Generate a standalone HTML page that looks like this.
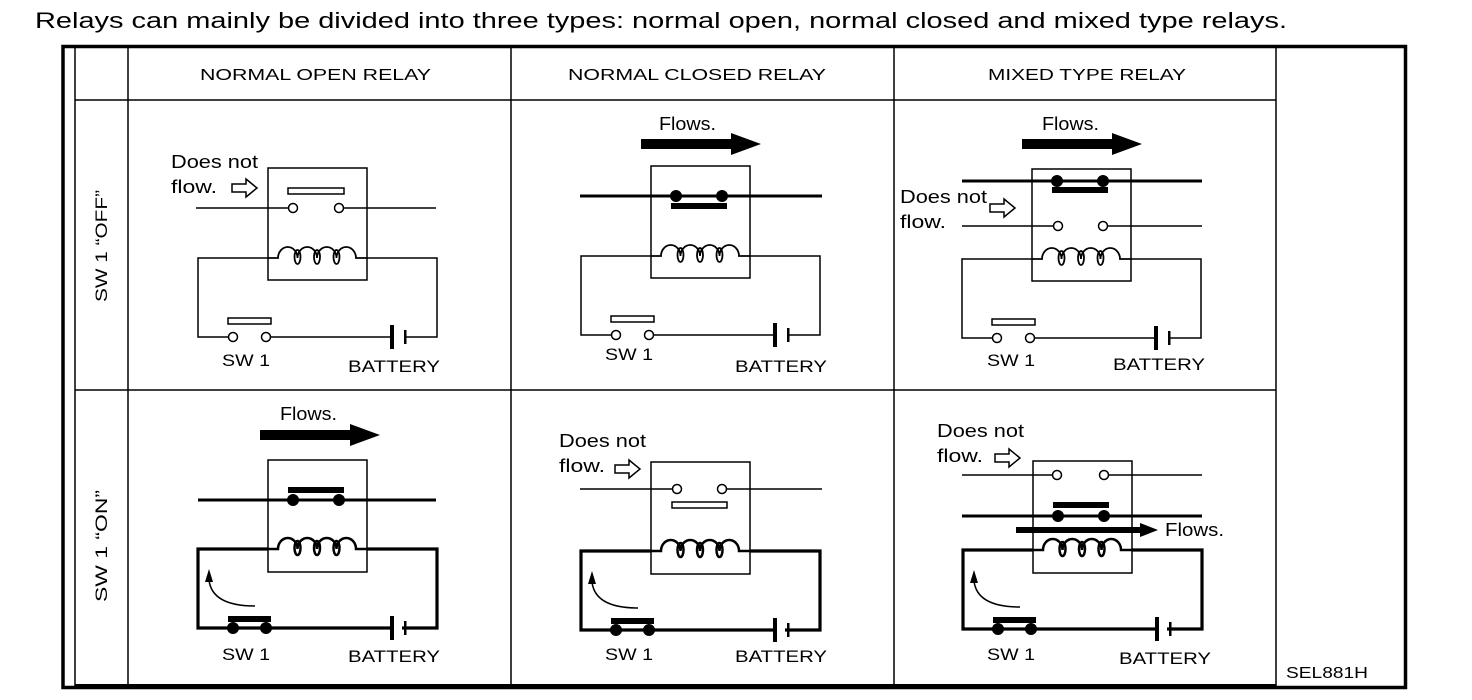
<!DOCTYPE html>
<html><head><meta charset="utf-8"><style>
html,body{margin:0;padding:0;background:#fff;}
svg{display:block;}
text{font-family:"Liberation Sans",sans-serif;fill:#000;}
</style></head><body>
<svg width="1472" height="700" viewBox="0 0 1472 700" xmlns="http://www.w3.org/2000/svg">
<defs>
<g id="coil" fill="none" stroke="#000">
<path d="M0,0 H10 a9.75,11 0 0 1 19.5,0 a9.75,11 0 0 1 19.5,0 a9.75,11 0 0 1 19.5,0 a9.75,11 0 0 1 19.5,0 H99"/>
<ellipse cx="29.5" cy="-1" rx="3" ry="7"/><ellipse cx="49" cy="-1" rx="3" ry="7"/><ellipse cx="68.5" cy="-1" rx="3" ry="7"/>
</g>
<polygon id="hollow" points="0,-4 14,-4 14,-9 25,0 14,9 14,4 0,4" fill="#fff" stroke="#000" stroke-width="1.5"/>
<polygon id="solid" points="0,-5 90,-5 90,-11 120,0 90,11 90,5 0,5" fill="#000"/>
<!-- OFF circuit (origin: NO column) -->
<g id="offc" fill="none" stroke="#000" stroke-width="1.5">
<rect x="268" y="168" width="99" height="112"/>
<use href="#coil" x="268" y="258" stroke-width="1.8"/>
<path d="M268,258 H198 V337 H228.5 M270.5,337 H391 M405,337 H437 V258 H367"/>
<circle cx="233" cy="337" r="4.5" fill="#fff"/><circle cx="266" cy="337" r="4.5" fill="#fff"/>
<rect x="228" y="318" width="43" height="6" fill="#fff"/>
<rect x="390" y="325" width="4" height="24" fill="#000" stroke="none"/>
<rect x="404" y="330" width="2.5" height="14" fill="#000" stroke="none"/>
</g>
<g id="onc" fill="none" stroke="#000">
<rect x="268" y="460" width="99" height="112" stroke-width="1.5"/>
<use href="#coil" x="268" y="549" stroke-width="2.5"/>
<path d="M268,549 H198 V628 H437 V549 H367" stroke-width="3.2"/>
<circle cx="233" cy="628" r="5.5" fill="#000"/><circle cx="266" cy="628" r="5.5" fill="#000"/>
<rect x="228" y="616" width="43" height="6" fill="#000" stroke="none"/>
<rect x="390" y="616" width="12" height="24" fill="#fff" stroke="none"/>
<rect x="390" y="616" width="4" height="24" fill="#000" stroke="none"/>
<rect x="404" y="621" width="2.5" height="14" fill="#000" stroke="none"/>
<path d="M255,606 Q212,606 209,580" stroke-width="1.5"/>
<polygon points="209,569 205,582 213,582" fill="#000" stroke="none"/>
</g>
</defs>

<text x="35" y="28" font-size="22" textLength="1252" lengthAdjust="spacingAndGlyphs">Relays can mainly be divided into three types: normal open, normal closed and mixed type relays.</text>

<!-- frame -->
<g fill="none" stroke="#000">
<rect x="63" y="46.5" width="1342.5" height="641" stroke-width="3.5"/>
<line x1="75" y1="47" x2="75" y2="686" stroke-width="1.5"/>
<line x1="128" y1="47" x2="128" y2="686" stroke-width="1.5"/>
<line x1="511" y1="47" x2="511" y2="686" stroke-width="1.5"/>
<line x1="894" y1="47" x2="894" y2="686" stroke-width="1.5"/>
<line x1="1276" y1="47" x2="1276" y2="686" stroke-width="1.5"/>
<line x1="75" y1="100" x2="1276" y2="100" stroke-width="1.5"/>
<line x1="75" y1="390" x2="1276" y2="390" stroke-width="1.5"/>
<line x1="75" y1="685" x2="1276" y2="685" stroke-width="2"/>
</g>

<text x="200" y="80" font-size="16" textLength="231" lengthAdjust="spacingAndGlyphs">NORMAL OPEN RELAY</text>
<text x="568" y="80" font-size="16" textLength="258" lengthAdjust="spacingAndGlyphs">NORMAL CLOSED RELAY</text>
<text x="988" y="80" font-size="16" textLength="198" lengthAdjust="spacingAndGlyphs">MIXED TYPE RELAY</text>

<text transform="translate(107,302) rotate(-90)" font-size="17" textLength="112" lengthAdjust="spacingAndGlyphs">SW 1 “OFF”</text>
<text transform="translate(107,602) rotate(-90)" font-size="17" textLength="112" lengthAdjust="spacingAndGlyphs">SW 1 “ON”</text>

<!-- NO OFF -->
<use href="#offc"/>
<g fill="none" stroke="#000" stroke-width="1.5">
<rect x="288" y="188" width="56" height="6" fill="#fff"/>
<path d="M196,208 H288.5 M343.5,208 H436"/>
<circle cx="293" cy="208" r="4.5" fill="#fff"/><circle cx="339" cy="208" r="4.5" fill="#fff"/>
</g>
<use href="#hollow" x="232" y="188"/>
<text x="171" y="168" font-size="18" textLength="87" lengthAdjust="spacingAndGlyphs">Does not</text>
<text x="171" y="193" font-size="18" textLength="46" lengthAdjust="spacingAndGlyphs">flow.</text>
<text x="222" y="366" font-size="17" textLength="48" lengthAdjust="spacingAndGlyphs">SW 1</text>
<text x="348" y="372" font-size="17" textLength="92" lengthAdjust="spacingAndGlyphs">BATTERY</text>

<!-- NO ON -->
<use href="#onc"/>
<g fill="none" stroke="#000">
<path d="M198,500 H436" stroke-width="3"/>
<rect x="288" y="487" width="56" height="6" fill="#000" stroke="none"/>
<circle cx="293" cy="500" r="5.5" fill="#000"/><circle cx="339" cy="500" r="5.5" fill="#000"/>
</g>
<use href="#solid" x="260" y="435"/>
<text x="280" y="420" font-size="18" textLength="57" lengthAdjust="spacingAndGlyphs">Flows.</text>
<text x="222" y="660" font-size="17" textLength="48" lengthAdjust="spacingAndGlyphs">SW 1</text>
<text x="348" y="662" font-size="17" textLength="92" lengthAdjust="spacingAndGlyphs">BATTERY</text>

<!-- NC OFF -->
<use href="#offc" x="383" y="-2"/>
<g fill="none" stroke="#000">
<path d="M580,196 H822" stroke-width="3"/>
<rect x="671" y="203" width="56" height="6" fill="#000" stroke="none"/>
<circle cx="676" cy="196" r="5.5" fill="#000"/><circle cx="722" cy="196" r="5.5" fill="#000"/>
</g>
<use href="#solid" x="641" y="144"/>
<text x="659" y="130" font-size="18" textLength="57" lengthAdjust="spacingAndGlyphs">Flows.</text>
<text x="605" y="360" font-size="17" textLength="48" lengthAdjust="spacingAndGlyphs">SW 1</text>
<text x="735" y="372" font-size="17" textLength="92" lengthAdjust="spacingAndGlyphs">BATTERY</text>

<!-- NC ON -->
<use href="#onc" x="383" y="2"/>
<g fill="none" stroke="#000" stroke-width="1.5">
<path d="M580,489 H672.5 M726.5,489 H822"/>
<circle cx="677" cy="489" r="4.5" fill="#fff"/><circle cx="722" cy="489" r="4.5" fill="#fff"/>
<rect x="672" y="502" width="55" height="6" fill="#fff"/>
</g>
<use href="#hollow" x="615" y="469"/>
<text x="559" y="447" font-size="18" textLength="87" lengthAdjust="spacingAndGlyphs">Does not</text>
<text x="559" y="472" font-size="18" textLength="46" lengthAdjust="spacingAndGlyphs">flow.</text>
<text x="605" y="660" font-size="17" textLength="48" lengthAdjust="spacingAndGlyphs">SW 1</text>
<text x="735" y="662" font-size="17" textLength="92" lengthAdjust="spacingAndGlyphs">BATTERY</text>

<!-- MIXED OFF -->
<use href="#offc" x="764" y="1"/>
<g fill="none" stroke="#000">
<path d="M962,181 H1202" stroke-width="3"/>
<rect x="1052" y="187" width="56" height="6" fill="#000" stroke="none"/>
<circle cx="1057" cy="181" r="5.5" fill="#000"/><circle cx="1103" cy="181" r="5.5" fill="#000"/>
<path d="M962,226 H1053.5 M1107.5,226 H1202" stroke-width="1.5"/>
<circle cx="1058" cy="226" r="4.5" fill="#fff" stroke-width="1.5"/><circle cx="1103" cy="226" r="4.5" fill="#fff" stroke-width="1.5"/>
</g>
<use href="#solid" x="1022" y="144"/>
<text x="1042" y="130" font-size="18" textLength="57" lengthAdjust="spacingAndGlyphs">Flows.</text>
<use href="#hollow" x="990" y="208"/>
<text x="900" y="203" font-size="18" textLength="87" lengthAdjust="spacingAndGlyphs">Does not</text>
<text x="900" y="228" font-size="18" textLength="46" lengthAdjust="spacingAndGlyphs">flow.</text>
<text x="987" y="366" font-size="17" textLength="48" lengthAdjust="spacingAndGlyphs">SW 1</text>
<text x="1113" y="370" font-size="17" textLength="92" lengthAdjust="spacingAndGlyphs">BATTERY</text>

<!-- MIXED ON -->
<use href="#onc" x="765" y="1"/>
<g fill="none" stroke="#000">
<path d="M962,475 H1052.5 M1108.5,475 H1202" stroke-width="1.5"/>
<circle cx="1057" cy="475" r="4.5" fill="#fff" stroke-width="1.5"/><circle cx="1104" cy="475" r="4.5" fill="#fff" stroke-width="1.5"/>
<path d="M962,516 H1202" stroke-width="3"/>
<rect x="1053" y="502" width="56" height="6" fill="#000" stroke="none"/>
<circle cx="1058" cy="516" r="5.5" fill="#000"/><circle cx="1104" cy="516" r="5.5" fill="#000"/>
</g>
<polygon points="1016,527 1140,527 1140,523 1158,530 1140,537 1140,533 1016,533" fill="#000"/>
<text x="1165" y="536" font-size="18" textLength="59" lengthAdjust="spacingAndGlyphs">Flows.</text>
<use href="#hollow" x="995" y="458"/>
<text x="937" y="437" font-size="18" textLength="87" lengthAdjust="spacingAndGlyphs">Does not</text>
<text x="937" y="462" font-size="18" textLength="46" lengthAdjust="spacingAndGlyphs">flow.</text>
<text x="987" y="660" font-size="17" textLength="48" lengthAdjust="spacingAndGlyphs">SW 1</text>
<text x="1119" y="664" font-size="17" textLength="92" lengthAdjust="spacingAndGlyphs">BATTERY</text>

<text x="1286" y="678" font-size="16" textLength="82" lengthAdjust="spacingAndGlyphs">SEL881H</text>
</svg>
</body></html>
